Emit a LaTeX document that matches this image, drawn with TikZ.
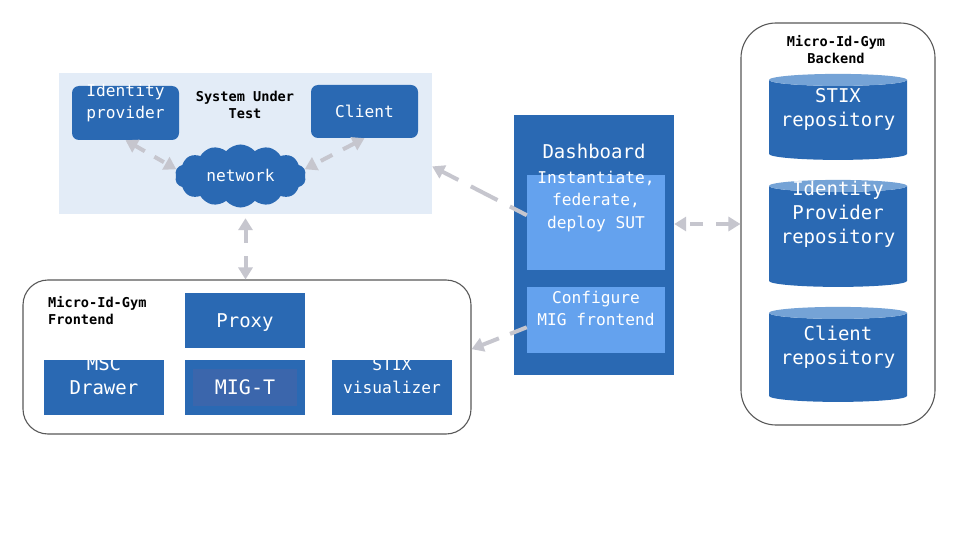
\documentclass[tikz,border=0pt]{standalone}
\usepackage{fontspec}
\usepackage{xcolor}
\usepackage{tikz}
\usetikzlibrary{arrows.meta,shapes.geometric,shapes.symbols}
\setmainfont{DejaVu Sans Mono}
\definecolor{migblue}{HTML}{2A69B3}
\definecolor{miglight}{HTML}{64A2EE}
\definecolor{migpale}{HTML}{E3ECF7}
\definecolor{migtop}{HTML}{75A3D6}
\definecolor{migdeep}{HTML}{3B66AC}
\definecolor{miglink}{HTML}{C6C6CE}
\tikzset{
  boxsmall/.style={font=\fontsize{16.2}{22.5}\selectfont,text=white,align=center,inner sep=0pt,text height=11.8pt,text depth=0pt},
  boxlarge/.style={font=\fontsize{19}{24}\selectfont,text=white,align=center,inner sep=0pt,text height=13.9pt,text depth=0pt},
  title/.style={font=\bfseries\fontsize{13.6}{17}\selectfont,text=black,align=center,inner sep=0pt},
  panel/.style={draw=black!65,line width=1.1pt,fill=white},
  tile/.style={fill=migblue,minimum width=120,minimum height=55},
  repo/.style={cylinder,shape border rotate=90,aspect=0.105,cylinder uses custom fill,
    cylinder body fill=migblue,cylinder end fill=migtop,minimum width=138},
  link/.style={draw=miglink,line width=4pt},
  both/.style={{Triangle[length=12pt,width=14pt]}-{Triangle[length=12pt,width=14pt]}},
  single/.style={-{Triangle[length=12pt,width=14pt]}}
}
\begin{document}
\begin{tikzpicture}[x=1pt,y=-1pt]
\useasboundingbox (0,0) rectangle (960,540);
\fill[white] (0,0) rectangle (960,540);
% system under test
\node[fill=migpale,minimum width=373,minimum height=141,inner sep=0pt] (sut) at (245.5,143.5) {};
\node[title] (suttitle) at (245,105) {System Under\\Test};
\node[boxsmall,fill=migblue,rounded corners=7pt,minimum width=107,minimum height=54] (idp) at (125.5,113) {Identity\\provider};
\node[boxsmall,fill=migblue,rounded corners=7pt,minimum width=107,minimum height=53] (client) at (364.5,111.5) {Client};
\node[boxsmall,fill=migblue,cloud,cloud puffs=14,cloud puff arc=100,aspect=2.1,minimum width=131,minimum height=63] (network) at (240.5,176) {network};
% frontend
\node[panel,rounded corners=25pt,minimum width=448,minimum height=154,inner sep=0pt] (frontend) at (247,357) {};
\node[title,align=left,anchor=west] (fronttitle) at (48,310.5) {Micro-Id-Gym\\Frontend};
\node[boxlarge,tile] (proxy) at (245,320.5) {Proxy};
\node[boxlarge,tile] (msc) at (104,387.5) {MSC\\Drawer};
\node[tile,inner sep=0pt] (migtbox) at (245,387.5) {};
\node[boxlarge,fill=migdeep,minimum width=104,minimum height=37,font=\fontsize{20}{24}\selectfont] (migt) at (245,387.5) {MIG-T};
\node[boxsmall,tile] (stix) at (392,387.5) {STIX\\visualizer};
% dashboard
\node[fill=migblue,minimum width=160,minimum height=260,inner sep=0pt] (dashboard) at (594,245) {};
\node[boxlarge] (dashtitle) at (594,152) {Dashboard};
\node[boxsmall,fill=miglight,minimum width=138,minimum height=95] (deploy) at (596,222.5) {Instantiate,\\federate,\\deploy SUT};
\node[boxsmall,fill=miglight,minimum width=138,minimum height=66] (configure) at (596,320) {Configure\\MIG frontend};
% backend
\node[panel,rounded corners=35pt,minimum width=194,minimum height=402,inner sep=0pt] (backend) at (838,224) {};
\node[title] (backtitle) at (836,50) {Micro-Id-Gym\\Backend};
\node[boxlarge,repo,minimum height=86] (stixrepo) at (838,120) {STIX\\repository};
\node[boxlarge,repo,minimum height=107] (idprepo) at (838,236.5) {Identity\\Provider\\repository};
\node[boxlarge,repo,minimum height=95] (clientrepo) at (838,357.5) {Client\\repository};
% connectors
\draw[link,both,dash pattern=on 11pt off 11pt] (idp.south) -- (network.174);
\draw[link,both,dash pattern=on 13pt off 12pt] (client.south) -- (network.6);
\draw[link,both,dash pattern=on 14pt off 13pt,shorten <=4pt] (sut.south) -- (sut.south |- frontend.north);
\draw[link,single,dash pattern=on 19pt off 14pt on 30pt off 14pt] (deploy.174.2) -- (sut.-7.5);
\draw[link,single,dash pattern=on 18pt off 12pt] (configure.186) -- (frontend.2);
\draw[link,both,dash pattern=on 13pt off 13pt] (backend.west) -- (backend.west -| dashboard.east);
\end{tikzpicture}
\end{document}
